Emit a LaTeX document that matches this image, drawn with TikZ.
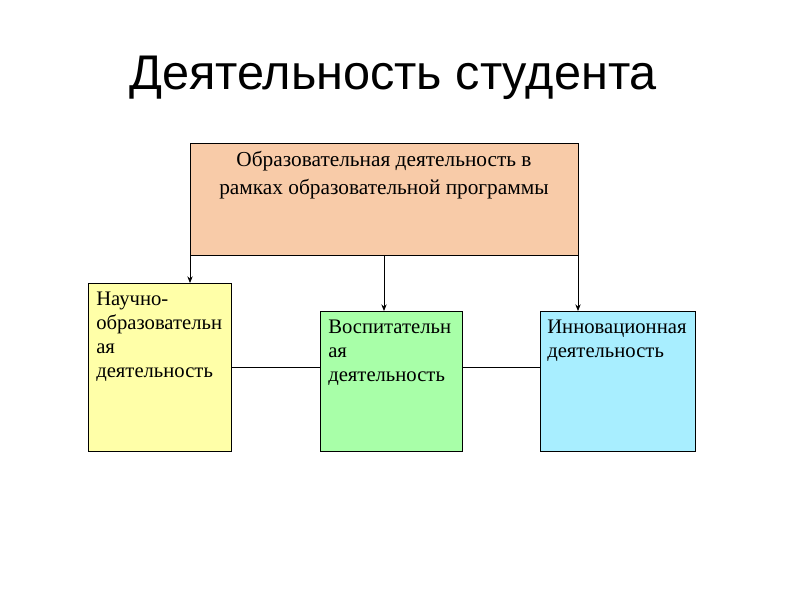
\documentclass[tikz,border=0pt]{standalone}
\usepackage{fontspec}
\setmainfont{Liberation Serif}
\newfontfamily\titlefont{Liberation Sans}
\usetikzlibrary{arrows.meta}
\definecolor{peach}{HTML}{F8CBA8}
\definecolor{yel}{HTML}{FFFFA8}
\definecolor{grn}{HTML}{A8FFA8}
\definecolor{cyn}{HTML}{A8EEFF}
\begin{document}
\begin{tikzpicture}[x=0.75pt,y=-0.75pt,
  box/.style={draw=black,line width=0.6pt},
  txt/.style={anchor=north west,align=left,inner sep=0pt,font=\fontsize{15.5}{18}\selectfont},
  arr/.style={-{Stealth[length=5pt,width=4pt]},line width=0.6pt},
  ln/.style={line width=0.6pt}]
\useasboundingbox (0,0) rectangle (800,600);
\node (title) at (393,78) {\titlefont\fontsize{36.5}{40}\selectfont Деятельность студента};
\draw[box,fill=peach] (190,143) rectangle (578,255);
\coordinate (tl) at (190,255); \coordinate (tm) at (384,255); \coordinate (tr) at (578,255);
\node[align=center,inner sep=0pt,font=\fontsize{16}{21}\selectfont,anchor=north] (tt) at (384,151) {Образовательная деятельность в\\рамках образовательной программы};
\draw[box,fill=yel] (88,283) rectangle (231,451);
\draw[box,fill=grn] (320,311) rectangle (462,451);
\draw[box,fill=cyn] (540,311) rectangle (695,451);
\coordinate (a1) at (190,283); \coordinate (a2) at (384,311); \coordinate (a3) at (578,311);
\node[txt] (t1) at (96,292) {Научно-\\образовательн\\ая\\деятельность};
\node[txt] (t2) at (328,320) {Воспитательн\\ая\\деятельность};
\node[txt] (t3) at (547,320) {Инновационная\\деятельность};
\draw[arr] (tl) -- (a1);
\draw[arr] (tm) -- (a2);
\draw[arr] (tr) -- (a3);
\coordinate (l1) at (231,367); \coordinate (l2) at (320,367);
\coordinate (l3) at (462,367); \coordinate (l4) at (540,367);
\draw[ln] (l1) -- (l2);
\draw[ln] (l3) -- (l4);
\end{tikzpicture}
\end{document}
